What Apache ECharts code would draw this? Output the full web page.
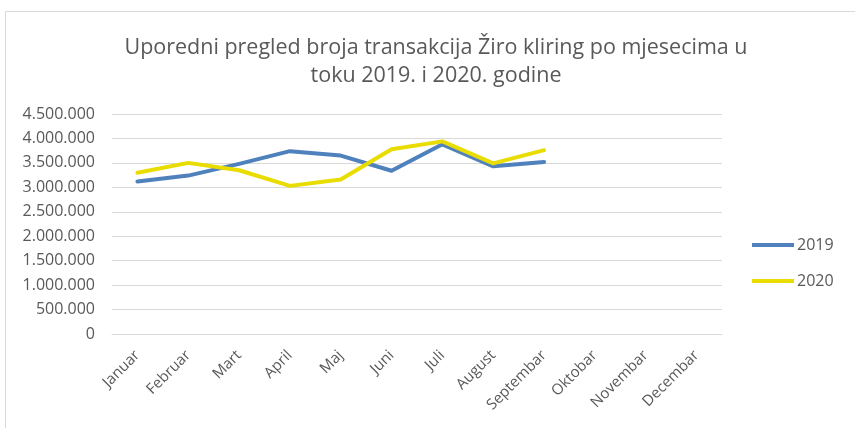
<!DOCTYPE html>
<html>
<head>
<meta charset="utf-8">
<script src="https://cdn.jsdelivr.net/npm/echarts@6/dist/echarts.min.js"></script>
<style>
  html, body { margin: 0; padding: 0; background: #fff; }
  #chart { width: 855px; height: 428px; }
</style>
</head>
<body>
<div id="chart"></div>
<script>
// mjeseci
const months = ['Januar', 'Februar', 'Mart', 'April', 'Maj', 'Juni', 'Juli', 'August', 'Septembar', 'Oktobar', 'Novembar', 'Decembar']

// broj transakcija (procjena sa slike)
const values2019 = [3120000, 3240000, 3480000, 3740000, 3650000, 3340000, 3880000, 3430000, 3520000]
const values2020 = [3300000, 3500000, 3350000, 3030000, 3160000, 3780000, 3940000, 3490000, 3760000]

const textColor = '#595959'
const font = 'Open Sans'

// 4500000 -> 4.500.000
function fmt (v) {
  return String(v).replace(/\B(?=(\d{3})+(?!\d))/g, '.')
}

const chart = echarts.init(document.getElementById('chart'))
chart.setOption({
  animation: false,
  textStyle: { fontFamily: font, color: textColor },
  title: {
    text: 'Uporedni pregled broja transakcija Žiro kliring po mjesecima u\ntoku 2019. i 2020. godine',
    left: 431,
    top: 29,
    textAlign: 'center',
    textStyle: { fontFamily: font, fontWeight: 'normal', fontSize: 21.5, color: textColor, lineHeight: 28 }
  },
  legend: {
    orient: 'vertical',
    left: 747,
    top: 232,
    itemWidth: 42,
    itemHeight: 14,
    itemGap: 20,
    textStyle: { fontFamily: font, fontSize: 16, color: textColor, padding: [0, 0, 0, -2] },
    data: [
      { name: '2019', icon: 'path://M0,0 L42,0 L42,4 L0,4 Z' },
      { name: '2020', icon: 'path://M0,0 L42,0 L42,4 L0,4 Z' }
    ]
  },
  grid: { left: 112, right: 133, top: 114, bottom: 94 },
  xAxis: {
    type: 'category',
    data: months,
    axisLine: { show: true, lineStyle: { color: '#d9d9d9' } },
    axisTick: { show: false },
    axisLabel: { rotate: 45, fontSize: 15, color: textColor, fontFamily: font, margin: 19 }
  },
  yAxis: {
    type: 'value',
    min: 0,
    max: 4500000,
    interval: 500000,
    axisLine: { show: false },
    axisTick: { show: false },
    splitLine: { lineStyle: { color: '#d9d9d9', width: 1 } },
    axisLabel: { fontSize: 16, color: textColor, fontFamily: font, margin: 17, formatter: fmt }
  },
  series: [
    {
      name: '2019',
      type: 'line',
      data: values2019,
      symbol: 'none',
      lineStyle: { width: 4, color: '#4f81bd', cap: 'round', join: 'round' },
      itemStyle: { color: '#4f81bd' }
    },
    {
      name: '2020',
      type: 'line',
      data: values2020,
      symbol: 'none',
      lineStyle: { width: 4, color: '#e8dc00', cap: 'round', join: 'round' },
      itemStyle: { color: '#e8dc00' }
    }
  ],
  graphic: [
    {
      type: 'rect',
      shape: { x: 5.5, y: 11.5, width: 870, height: 440 },
      style: { fill: 'none', stroke: '#d9d9d9', lineWidth: 1 },
      silent: true
    }
  ]
})
</script>
</body>
</html>
